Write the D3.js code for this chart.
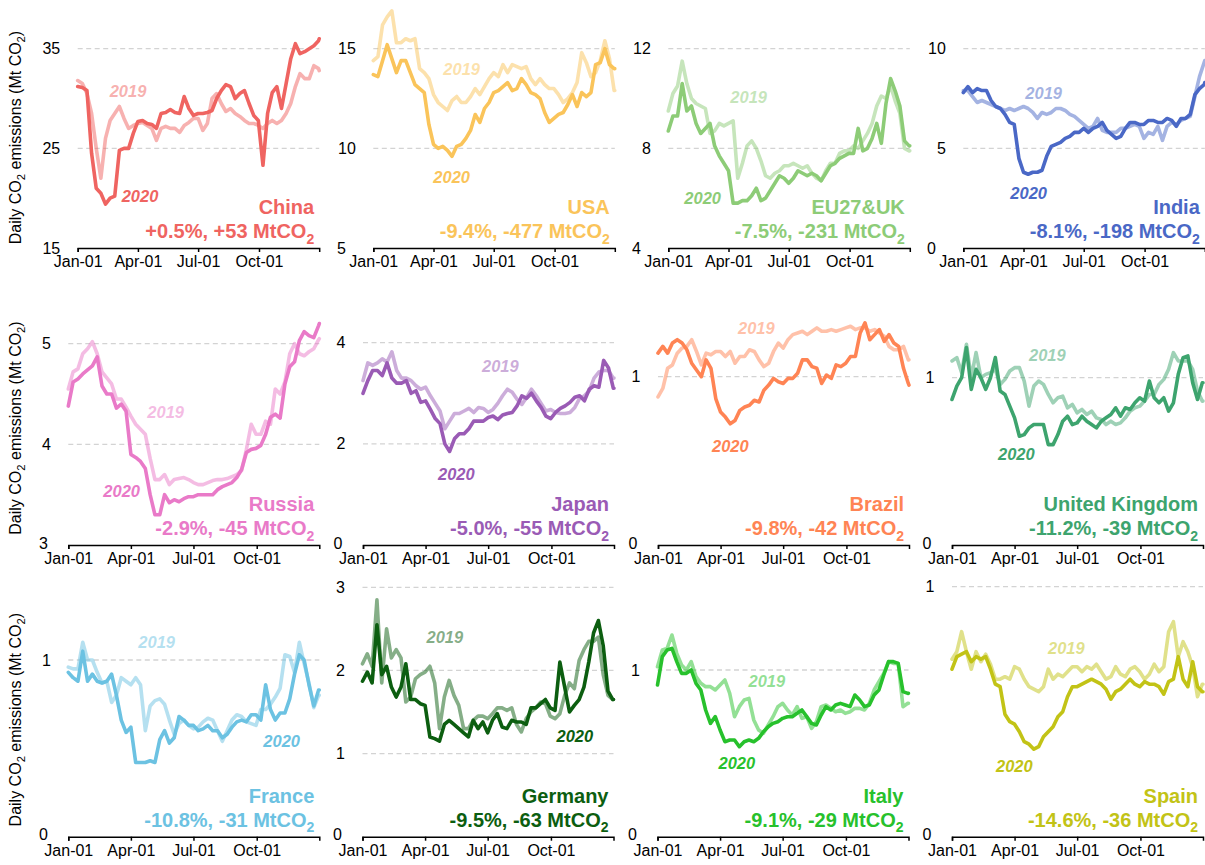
<!DOCTYPE html>
<html><head><meta charset="utf-8">
<script src="https://cdn.jsdelivr.net/npm/d3@7"></script>
<style>body{margin:0;background:#fff} svg{display:block}</style>
</head><body><svg id="c" width="1205" height="865"></svg>
<script>
// ---------- DATA ----------
// day-of-year offsets (from Jan-01) of the sampled points
const days = [0,7,14,21,28,35,42,49,56,63,70,77,84,91,98,105,112,119,126,133,140,147,154,161,168,175,182,189,196,203,210,217,224,231,238,245,252,259,266,273,280,287,294,301,308,315,322,329,336,343,350,357,364,365];

const countries = ["China","USA","EU27&UK","India","Russia","Japan","Brazil","United Kingdom","France","Germany","Italy","Spain"];
const changeLabels = ["+0.5%, +53 MtCO","-9.4%, -477 MtCO","-7.5%, -231 MtCO","-8.1%, -198 MtCO","-2.9%, -45 MtCO","-5.0%, -55 MtCO","-9.8%, -42 MtCO","-11.2%, -39 MtCO","-10.8%, -31 MtCO","-9.5%, -63 MtCO","-9.1%, -29 MtCO","-14.6%, -36 MtCO"];
const yTickValues = [[15,25,35],[5,10,15],[4,8,12],[0,5,10],[3,4,5],[0,2,4],[0,1],[0,1],[0,1],[0,1,2,3],[0,1],[0,1]];
const xTickLabels = ["Jan-01","Apr-01","Jul-01","Oct-01"];
const seriesYears = ["2019","2020"];

const china2020 = [31.2,31.1,30.8,24.5,21.0,20.5,19.4,20.0,20.2,24.8,25.0,25.0,26.5,27.7,27.8,27.5,27.4,27.0,28.5,28.6,28.9,28.6,28.5,30.2,29.0,28.3,28.5,28.5,28.6,28.8,30.0,30.8,31.4,31.2,30.0,30.5,30.8,29.5,28.3,27.8,23.3,28.5,30.6,31.2,29.0,31.5,34.0,35.5,34.5,34.7,35.0,35.3,35.8,36.0];
const china2019 = [31.8,31.5,30.5,28.5,25.0,22.0,26.0,27.8,28.5,29.2,28.0,27.0,27.3,27.5,27.6,27.3,27.0,25.8,27.0,27.2,27.0,27.0,26.6,27.3,27.6,28.0,28.0,26.8,27.5,30.0,30.5,29.5,28.7,29.0,28.5,28.2,27.8,27.5,27.5,27.3,27.0,27.5,27.8,27.5,27.8,28.5,29.5,31.2,32.5,32.0,32.0,33.3,33.0,32.8];
const usa2020 = [13.7,13.6,14.4,15.2,14.5,13.8,14.4,14.4,13.8,13.2,13.0,12.8,11.2,10.2,10.0,10.1,9.9,9.6,10.1,10.2,10.5,10.9,11.7,11.3,12.0,12.3,12.8,12.9,13.1,13.3,12.9,13.0,13.5,13.2,12.8,12.7,12.5,11.8,11.3,11.5,11.7,11.8,12.2,12.7,12.1,12.8,12.6,12.8,14.2,14.3,15.0,14.2,14.0,14.0];
const usa2019 = [14.4,14.6,16.2,16.6,16.9,15.3,15.3,15.5,15.4,15.5,14.0,13.8,13.5,12.7,12.3,12.1,11.9,12.4,12.6,12.3,12.3,12.6,13.0,12.7,13.1,13.5,13.8,13.6,14.2,13.8,14.2,14.1,14.0,14.1,13.5,13.2,13.5,13.2,13.0,13.0,12.7,12.3,12.5,12.8,13.3,14.8,14.3,13.6,13.8,14.4,15.4,14.5,12.9,12.9];
const eu2020 = [8.7,9.3,9.3,10.6,9.5,9.7,9.0,8.6,8.8,9.0,8.1,7.7,7.4,7.1,5.8,5.8,5.9,5.9,6.1,6.4,5.9,6.0,6.3,6.6,6.9,6.8,6.6,6.8,7.1,7.0,6.9,7.0,6.9,6.7,7.0,7.3,7.4,7.6,7.7,7.8,7.8,8.8,7.9,8.0,8.4,9.0,8.2,9.8,10.8,10.3,9.7,8.3,8.1,8.1];
const eu2019 = [9.5,10.2,10.5,11.5,10.6,10.0,9.8,9.7,9.6,8.6,8.7,9.0,8.9,9.0,9.1,6.8,7.4,8.1,8.3,8.0,7.5,6.9,6.8,7.0,7.1,7.3,7.3,7.4,7.3,7.2,7.3,7.0,6.8,6.7,7.1,7.4,7.4,7.8,7.9,7.9,8.1,8.0,8.3,8.6,9.0,9.7,10.1,10.0,10.5,9.9,9.4,8.0,7.9,7.9];
const india2020 = [7.8,8.1,7.8,8.0,7.9,7.9,7.4,7.1,7.0,6.7,6.3,6.2,4.5,3.8,3.7,3.8,3.8,3.9,4.6,5.1,5.2,5.3,5.5,5.6,5.8,5.8,6.0,5.8,6.0,6.1,6.3,5.9,5.7,5.5,5.6,6.0,6.3,6.3,6.2,6.2,6.4,6.4,6.3,6.3,6.5,6.4,6.1,6.5,6.5,6.7,7.7,8.0,8.2,8.3];
const india2019 = [7.9,7.9,7.6,7.3,7.4,7.3,7.2,7.1,7.0,6.9,7.0,6.9,7.0,7.1,7.0,6.8,6.5,6.8,6.7,6.8,7.0,7.0,6.9,6.7,6.6,6.4,6.2,6.0,6.1,6.5,5.9,5.8,5.8,5.8,6.0,6.0,6.1,6.2,6.1,5.5,5.8,5.7,6.1,5.4,6.1,6.3,6.2,6.4,6.5,6.6,7.6,8.6,9.3,9.4];
const russia2020 = [4.38,4.62,4.65,4.7,4.74,4.78,4.87,4.58,4.5,4.5,4.36,4.4,4.33,3.9,3.87,3.83,3.76,3.5,3.3,3.3,3.5,3.42,3.45,3.43,3.46,3.48,3.48,3.5,3.5,3.5,3.5,3.55,3.58,3.6,3.62,3.67,3.75,3.92,3.95,3.96,3.99,4.1,4.27,4.3,4.26,4.6,4.77,4.82,5.03,5.12,5.08,5.06,5.18,5.2];
const russia2019 = [4.55,4.72,4.75,4.9,4.95,5.02,4.9,4.72,4.66,4.6,4.45,4.45,4.37,4.28,4.2,4.15,4.1,3.86,3.65,3.65,3.7,3.6,3.65,3.66,3.67,3.65,3.62,3.6,3.6,3.62,3.64,3.65,3.65,3.66,3.68,3.7,3.74,3.95,4.2,4.1,4.1,4.23,4.2,4.55,4.5,4.62,4.9,5.0,4.9,4.88,4.92,4.95,5.04,5.05];
const japan2020 = [3.0,3.25,3.45,3.45,3.35,3.6,3.3,3.2,3.2,3.25,3.0,3.05,2.82,2.85,2.68,2.5,2.4,2.0,1.85,2.1,2.2,2.2,2.3,2.45,2.45,2.45,2.52,2.55,2.48,2.57,2.6,2.62,2.75,2.95,2.9,3.0,2.85,2.72,2.55,2.5,2.62,2.7,2.75,2.82,2.92,2.95,2.85,3.08,3.15,3.12,3.65,3.5,3.1,3.1];
const japan2019 = [3.25,3.6,3.55,3.6,3.68,3.62,3.82,3.45,3.3,3.3,3.25,3.15,3.08,3.12,2.95,2.8,2.65,2.3,2.45,2.6,2.6,2.65,2.7,2.62,2.72,2.7,2.62,2.68,2.8,2.95,3.08,3.02,2.88,2.78,2.92,3.08,2.95,2.8,2.65,2.68,2.62,2.6,2.6,2.62,2.72,2.9,2.95,3.05,3.3,3.42,3.45,3.45,3.3,3.3];
const brazil2020 = [1.14,1.18,1.14,1.2,1.22,1.2,1.16,1.08,1.04,1.0,1.1,1.05,0.87,0.79,0.76,0.72,0.74,0.8,0.82,0.83,0.86,0.85,0.92,0.95,0.99,0.97,0.96,0.99,0.99,1.02,1.1,1.1,1.06,1.05,0.96,1.01,0.99,1.07,1.06,1.08,1.12,1.12,1.26,1.32,1.22,1.25,1.28,1.21,1.25,1.2,1.18,1.05,0.96,0.95];
const brazil2019 = [0.88,0.93,1.05,1.07,1.14,1.17,1.18,1.22,1.15,1.07,1.14,1.13,1.15,1.15,1.12,1.15,1.08,1.12,1.12,1.16,1.15,1.1,1.06,1.08,1.15,1.2,1.17,1.22,1.25,1.26,1.27,1.25,1.27,1.29,1.27,1.27,1.28,1.27,1.28,1.29,1.3,1.28,1.29,1.29,1.27,1.28,1.26,1.24,1.18,1.16,1.16,1.18,1.1,1.1];
const uk2020 = [0.87,0.95,1.0,1.18,0.93,1.05,1.0,0.93,1.0,1.12,0.92,0.9,0.83,0.76,0.65,0.66,0.7,0.72,0.72,0.72,0.6,0.6,0.66,0.74,0.77,0.72,0.73,0.77,0.74,0.72,0.7,0.74,0.76,0.78,0.82,0.77,0.82,0.81,0.85,0.88,0.86,0.98,0.88,0.85,0.88,0.8,0.85,1.02,1.12,1.13,0.97,0.87,0.97,0.97];
const uk2019 = [1.1,1.12,1.03,1.2,1.0,1.15,1.0,1.02,1.03,1.05,0.96,0.99,1.04,1.06,1.06,0.98,0.83,0.95,0.98,0.96,0.9,0.85,0.88,0.89,0.82,0.84,0.79,0.81,0.78,0.8,0.76,0.75,0.72,0.74,0.72,0.73,0.76,0.8,0.82,0.83,0.86,0.9,0.9,0.96,0.99,1.05,1.15,1.1,1.1,1.1,1.05,0.92,0.86,0.86];
const france2020 = [0.93,0.9,0.88,1.05,0.88,0.92,0.88,0.87,0.88,0.92,0.8,0.66,0.59,0.62,0.42,0.42,0.42,0.43,0.42,0.55,0.6,0.53,0.56,0.68,0.66,0.63,0.63,0.6,0.61,0.63,0.6,0.6,0.56,0.58,0.62,0.65,0.66,0.65,0.69,0.69,0.66,0.86,0.72,0.66,0.7,0.7,0.78,0.92,1.03,1.0,0.86,0.74,0.83,0.83];
const france2019 = [0.96,0.95,0.95,1.1,1.0,1.0,0.93,0.87,0.88,0.76,0.8,0.9,0.88,0.86,0.9,0.86,0.6,0.74,0.77,0.78,0.75,0.66,0.58,0.64,0.66,0.63,0.61,0.62,0.65,0.67,0.66,0.6,0.54,0.6,0.66,0.69,0.68,0.65,0.64,0.63,0.72,0.72,0.75,0.79,0.84,1.03,1.02,0.93,1.1,0.98,0.87,0.73,0.8,0.8];
const germany2020 = [1.87,1.98,1.85,2.55,1.95,2.05,1.8,1.68,1.8,2.08,1.65,1.65,1.6,1.58,1.2,1.18,1.15,1.35,1.4,1.35,1.3,1.25,1.2,1.4,1.3,1.38,1.25,1.4,1.48,1.32,1.3,1.4,1.38,1.38,1.35,1.55,1.55,1.6,1.65,1.55,1.52,2.1,1.8,1.5,1.58,1.65,1.8,2.1,2.45,2.6,2.3,1.75,1.65,1.65];
const germany2019 = [2.08,2.2,2.05,2.85,1.85,2.5,2.15,2.25,2.15,1.62,1.68,1.9,1.95,1.98,2.05,1.85,1.3,1.68,1.88,1.7,1.58,1.3,1.3,1.4,1.45,1.45,1.42,1.48,1.55,1.55,1.52,1.55,1.35,1.26,1.42,1.5,1.55,1.62,1.6,1.45,1.42,1.48,1.7,1.85,1.78,2.12,2.25,2.35,2.35,2.4,1.95,1.7,1.65,1.65];
const italy2020 = [0.91,1.08,1.12,1.13,1.05,0.98,0.98,1.0,0.92,0.88,0.76,0.68,0.72,0.64,0.57,0.58,0.58,0.54,0.57,0.58,0.57,0.59,0.63,0.66,0.68,0.69,0.71,0.72,0.72,0.74,0.76,0.72,0.68,0.67,0.73,0.78,0.76,0.79,0.8,0.79,0.78,0.85,0.82,0.78,0.79,0.85,0.88,0.97,1.05,1.05,1.04,0.87,0.86,0.86];
const italy2019 = [1.02,1.12,1.13,1.21,1.1,1.03,1.0,1.05,0.96,0.92,0.9,0.9,0.88,0.91,0.94,0.86,0.72,0.78,0.82,0.83,0.7,0.64,0.62,0.67,0.72,0.78,0.8,0.76,0.73,0.78,0.71,0.72,0.65,0.69,0.78,0.79,0.77,0.75,0.76,0.74,0.75,0.77,0.77,0.76,0.8,0.88,0.93,0.98,1.05,1.04,1.04,0.78,0.8,0.8];
const spain2020 = [0.67,0.72,0.73,0.74,0.7,0.72,0.71,0.72,0.67,0.61,0.6,0.49,0.46,0.45,0.42,0.38,0.37,0.35,0.36,0.4,0.42,0.44,0.48,0.5,0.56,0.6,0.6,0.61,0.62,0.63,0.62,0.61,0.59,0.55,0.58,0.59,0.61,0.63,0.61,0.6,0.62,0.61,0.61,0.6,0.57,0.62,0.63,0.72,0.63,0.6,0.7,0.6,0.58,0.58];
const spain2019 = [0.71,0.74,0.82,0.74,0.67,0.74,0.7,0.73,0.69,0.63,0.63,0.64,0.63,0.68,0.67,0.63,0.6,0.59,0.58,0.6,0.67,0.63,0.65,0.64,0.66,0.68,0.68,0.66,0.68,0.67,0.69,0.66,0.63,0.64,0.68,0.65,0.64,0.67,0.68,0.66,0.63,0.65,0.69,0.66,0.68,0.82,0.86,0.72,0.78,0.74,0.68,0.56,0.61,0.61];

const series2019 = [china2019,usa2019,eu2019,india2019,russia2019,japan2019,brazil2019,uk2019,france2019,germany2019,italy2019,spain2019];
const series2020 = [china2020,usa2020,eu2020,india2020,russia2020,japan2020,brazil2020,uk2020,france2020,germany2020,italy2020,spain2020];

// ---------- STYLE / LAYOUT ----------
const colors = ["#ef6461","#fac45a","#8dcc77","#4a68c6","#e97ac8","#9a5bb5","#ff8454","#3da46e","#6cc2e2","#0c5e10","#27c12c","#c2c316"];
const rowBase = [248, 545, 836.7];
const colLeft = [[77.7,373.3,668.3,963.3],[68.3,363,658,952],[68.3,362.5,657.5,952]];
const colWidth = [241.5, 251, 251];
const tickSpanPx = [199.3,199.3,199.3,199.3,201.3,202.3,168.3,167.3,176.7,249.4,166.7,250];
// extra offset [dx, dy] for the lowest y tick label of each panel
const bottomLabelShift = [[0,0],[-10,0],[-10,0],[-10,0],[-3,-2],[-3,-2],[-3,-2],[-3,-2],[-3,-2],[-3,-2],[-3,-2],[-3,-2]];
// year-label offsets relative to (panel left, baseline): [2019, 2020]
const yearLabelPos = [
  [[32,-151],[44,-46]], [[70,-173],[60,-65]], [[62,-145],[16,-44]], [[62,-149],[47,-49]],
  [[79,-127],[35,-48]], [[119,-173],[75,-65]], [[80,-211],[54,-93]], [[77,-184],[46,-85]],
  [[70,-189],[195,-90]], [[64,-194],[194,-95]], [[91,-150],[61,-68]], [[96,-183],[44,-65]]
];
const FONT = "'Liberation Sans', Arial, Helvetica, sans-serif";

const svg = d3.select("#c").style("font-family", FONT);
const start = new Date(2020,0,1), end = new Date(2020,11,31);
const tickDates = [new Date(2020,0,1), new Date(2020,3,1), new Date(2020,6,1), new Date(2020,9,1)];
const dayToDate = d => d3.timeDay.offset(start, d);

function addSub(textSel, parts, fs) {
  let prevSub = false;
  parts.forEach(([s, sub]) => {
    const t = textSel.append("tspan").text(s);
    if (sub) t.attr("font-size", fs*0.7).attr("dy", fs*0.28);
    else if (prevSub) t.attr("dy", -fs*0.28);
    prevSub = sub;
  });
}

countries.forEach((name, i) => {
  const row = Math.floor(i/4), col = i % 4;
  const L = colLeft[row][col], W = colWidth[row], base = rowBase[row];
  const ticks = yTickValues[i];
  const x = d3.scaleTime().domain([start, end]).range([L, L+W]);
  const y = d3.scaleLinear().domain([ticks[0], ticks[ticks.length-1]]).range([base, base - tickSpanPx[i]]);
  const g = svg.append("g");

  // gridlines
  g.selectAll("line.grid").data(ticks.slice(1)).join("line")
    .attr("x1", L).attr("x2", L+W).attr("y1", d=>y(d)).attr("y2", d=>y(d))
    .attr("stroke", "#d3d3d3").attr("stroke-width", 1.3).attr("stroke-dasharray", "5,3.5");

  // y tick labels
  g.selectAll("text.yt").data(ticks).join("text")
    .attr("x", (d,k) => L - 17.5 + (k===0 ? bottomLabelShift[i][0] : 0))
    .attr("y", (d,k) => y(d) + (k===0 ? bottomLabelShift[i][1] : 0)).attr("dy", "0.35em")
    .attr("text-anchor", "end").attr("font-size", 16).attr("fill", "#000")
    .text(d=>d);

  // lines
  const line = d3.line().x((v,k)=>x(dayToDate(days[k]))).y(v=>y(v));
  g.append("path").attr("d", line(series2019[i])).attr("fill","none")
    .attr("stroke", colors[i]).attr("stroke-opacity", 0.5).attr("stroke-width", 3.6)
    .attr("stroke-linejoin","round").attr("stroke-linecap","round");
  g.append("path").attr("d", line(series2020[i])).attr("fill","none")
    .attr("stroke", colors[i]).attr("stroke-width", 3.6)
    .attr("stroke-linejoin","round").attr("stroke-linecap","round");

  // x axis
  const ax = g.append("g").attr("transform", `translate(0,${base})`)
    .call(d3.axisBottom(x).tickValues(tickDates).tickFormat((d,k)=>xTickLabels[k])
      .tickSize(4).tickSizeOuter(4).tickPadding(3.5));
  ax.select(".domain").attr("stroke", "#000").attr("stroke-width", 1.5);
  ax.selectAll(".tick line").attr("stroke", "#000").attr("stroke-width", 1.5);
  ax.selectAll(".tick text").attr("font-size", 16).attr("fill", "#000").attr("font-family", FONT);

  // year labels
  seriesYears.forEach((yr, k) => {
    const p = yearLabelPos[i][k];
    g.append("text").attr("x", L + p[0]).attr("y", base + p[1])
      .attr("font-size", 16.5).attr("font-weight", "bold").attr("font-style", "italic")
      .attr("fill", colors[i]).attr("fill-opacity", k===0 ? 0.5 : 1).text(yr);
  });

  // titles
  g.append("text").attr("x", L + W - 5).attr("y", base - 34).attr("text-anchor", "end")
    .attr("font-size", 20).attr("font-weight", "bold").attr("fill", colors[i]).text(name);
  const st = g.append("text").attr("x", L + W - 5).attr("y", base - 10).attr("text-anchor", "end")
    .attr("font-size", 20).attr("font-weight", "bold").attr("fill", colors[i]);
  addSub(st, [[changeLabels[i], false], ["2", true]], 20);

  // y axis title for first column
  if (col === 0) {
    const cy = base + (row === 0 ? -110.5 : -117);
    const yl = svg.append("text").attr("transform", `translate(21,${cy}) rotate(-90)`)
      .attr("text-anchor", "middle").attr("font-size", 16).attr("fill", "#000");
    addSub(yl, [["Daily CO", false], ["2", true], [" emissions (Mt CO", false], ["2", true], [")", false]], 16);
  }
});
</script>
</body></html>
